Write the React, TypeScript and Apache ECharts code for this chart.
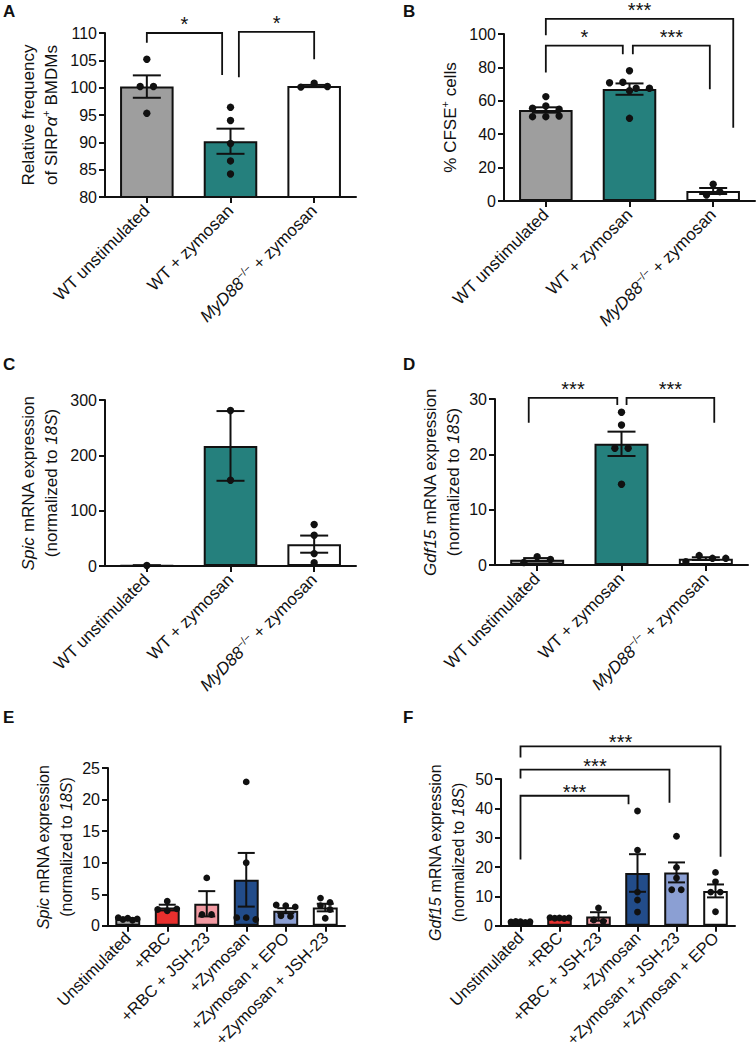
import React, { useEffect, useRef } from "react";
import * as echarts from "echarts";

// ---------------- categories ----------------
const catsABCD = ["WT unstimulated", "WT + zymosan", "MyD88−/− + zymosan"];
const catsE = ["Unstimulated", "+RBC", "+RBC + JSH-23", "+Zymosan", "+Zymosan + EPO", "+Zymosan + JSH-23"];
const catsF = ["Unstimulated", "+RBC", "+RBC + JSH-23", "+Zymosan", "+Zymosan + JSH-23", "+Zymosan + EPO"];

// ---------------- panel A ----------------
const aTicks = [80, 85, 90, 95, 100, 105, 110];
const aMeans = [100.2, 90.2, 100.3];
const aSems = [2.05, 2.3, 0.2];
const aPoints = [
  [105.2, 100.2, 100.2, 95.3],
  [96.4, 94.0, 89.8, 86.6, 84.2],
  [100.1, 100.8, 100.2],
];

// ---------------- panel B ----------------
const bTicks = [0, 20, 40, 60, 80, 100];
const bMeans = [54.5, 67.0, 6.0];
const bSems = [1.6, 3.4, 1.8];
const bPoints = [
  [62.5, 55.5, 56.9, 54.9, 50.5, 50.5, 50.9],
  [78.0, 70.8, 71.1, 66.0, 67.5, 67.5, 49.5],
  [10.0, 3.6, 5.6],
];

// ---------------- panel C ----------------
const cTicks = [0, 100, 200, 300];
const cMeans = [1, 217, 39.5];
const cSems = [0.3, 63, 15.5];
const cPoints = [[1], [281, 155], [75, 55.5, 22.4, 6]];

// ---------------- panel D ----------------
const dTicks = [0, 10, 20, 30];
const dMeans = [0.95, 21.9, 1.15];
const dSems = [0.3, 2.2, 0.25];
const dPoints = [
  [0.45, 1.5, 1.0],
  [27.6, 25.3, 21.1, 21.1, 14.6],
  [0.6, 1.7, 1.2, 1.2],
];

// ---------------- panel E ----------------
const eTicks = [0, 5, 10, 15, 20, 25];
const eMeans = [1.1, 2.9, 3.5, 7.3, 2.4, 2.9];
const eSems = [0.1, 0.45, 2.0, 4.25, 0.4, 0.6];
const ePoints = [
  [1.3, 1.0, 1.2, 0.9, 1.1],
  [3.9, 2.6, 2.4, 2.7],
  [7.6, 1.8, 1.8],
  [22.8, 10.0, 1.3, 1.3, 1.0],
  [3.3, 3.2, 3.0, 1.6, 1.5],
  [4.4, 3.7, 3.2, 2.6, 1.2],
];

// ---------------- panel F ----------------
const fTicks = [0, 10, 20, 30, 40, 50];
const fMeans = [1.35, 2.65, 3.2, 18.0, 18.2, 11.9];
const fSems = [0.06, 0.06, 1.45, 6.4, 3.4, 2.2];
const fPoints = [
  [1.3, 1.5, 1.4, 1.2, 1.4],
  [2.8, 2.6, 2.7, 2.5, 2.7],
  [6.1, 2.0, 1.5],
  [39.1, 25.8, 11.5, 8.8, 4.7],
  [30.5, 19.9, 16.3, 12.3, 12.3],
  [18.2, 15.0, 11.5, 11.5, 4.8],
];

// ---------------- significance brackets (data units) ----------------
type Bracket = { from: number; fromShift: number; to: number; toShift: number; top: number; leftEnd: number; rightEnd: number; label: string };
const aBrackets: Bracket[] = [
  { from: 0, fromShift: 0, to: 1, toShift: -0.1, top: 110, leftEnd: 108.2, rightEnd: 102.3, label: "*" },
  { from: 1, fromShift: 0.1, to: 2, toShift: 0, top: 110.2, leftEnd: 101.9, rightEnd: 105.2, label: "*" },
];
const bBrackets: Bracket[] = [
  { from: 0, fromShift: 0, to: 2, toShift: 0.24, top: 109, leftEnd: 99.2, rightEnd: 43.9, label: "***" },
  { from: 0, fromShift: 0, to: 1, toShift: -0.08, top: 93, leftEnd: 77, rightEnd: 87.8, label: "*" },
  { from: 1, fromShift: 0.04, to: 2, toShift: -0.04, top: 93, leftEnd: 87.8, rightEnd: 66.9, label: "***" },
];
const dBrackets: Bracket[] = [
  { from: 0, fromShift: -0.1, to: 1, toShift: -0.05, top: 30.2, leftEnd: 25.7, rightEnd: 28.9, label: "***" },
  { from: 1, fromShift: 0.06, to: 2, toShift: 0.1, top: 30.2, leftEnd: 28.9, rightEnd: 25.7, label: "***" },
];
const fBrackets: Bracket[] = [
  { from: 0, fromShift: 0, to: 3, toShift: -0.23, top: 44.3, leftEnd: 22.6, rightEnd: 41.4, label: "***" },
  { from: 0, fromShift: 0, to: 4, toShift: -0.18, top: 53.2, leftEnd: 50.2, rightEnd: 41.9, label: "***" },
  { from: 0, fromShift: 0, to: 5, toShift: 0.13, top: 61.1, leftEnd: 57.3, rightEnd: 23.5, label: "***" },
];

// ---------------- colours ----------------
const colorsABCD = ["#9e9e9e", "#25807d", "#ffffff"];
const colorsEF = ["#a9a9a9", "#e8302e", "#f29aa2", "#224c8a", "#8b9fd3", "#ffffff"];

// ---------------- axis titles ----------------
const nameA = "{t|Relative frequency}\n{t|of SIRP}{g|α}{s|+}{t| BMDMs}";
const nameB = "{t|% CFSE}{s|+}{t| cells}";
const nameC = "{i|Spic}{t| mRNA expression}\n{t|(normalized to }{i|18S}{t|)}";
const nameD = "{i|Gdf15}{t| mRNA expression}\n{t|(normalized to }{i|18S}{t|)}";

const FONT = "'Liberation Sans', Arial, Helvetica, sans-serif";
const INK = "#111111";

interface Panel {
  letter: string;
  letterPos: [number, number];
  grid: [number, number, number, number];
  cats: string[];
  colors: string[];
  means: number[];
  sems: number[];
  points: number[][];
  ticks: number[];
  brackets: Bracket[];
  name: string;
  nameGap: number;
  nameSize: number;
  nameLH: number;
  tickSize: number;
  labelSize: number;
  labelMargin: number;
  barWidth: string;
  capHalf: number;
  dotR: number;
  spacing: number;
  maxW: number;
  rowPx: number;
  starGap: number;
}

const bigStyle = {
  nameSize: 17, nameLH: 23, tickSize: 16, labelSize: 17, labelMargin: 11,
  barWidth: "64%", capHalf: 14, dotR: 3.7, spacing: 13.3, maxW: 40, rowPx: 7, starGap: 9,
};
const smallStyle = {
  nameSize: 16, nameLH: 23, tickSize: 16, labelSize: 16.5, labelMargin: 9,
  barWidth: "63%", capHalf: 8.5, dotR: 3.4, spacing: 9.5, maxW: 19, rowPx: 7, starGap: 4,
};

const panels: Panel[] = [
  { letter: "A", letterPos: [3, 3], grid: [105, 33, 251, 164], cats: catsABCD, colors: colorsABCD, means: aMeans, sems: aSems, points: aPoints, ticks: aTicks, brackets: aBrackets, name: nameA, nameGap: 42, ...bigStyle },
  { letter: "B", letterPos: [403, 3], grid: [504, 34, 251, 167], cats: catsABCD, colors: colorsABCD, means: bMeans, sems: bSems, points: bPoints, ticks: bTicks, brackets: bBrackets, name: nameB, nameGap: 42, ...bigStyle },
  { letter: "C", letterPos: [3, 356], grid: [105, 400, 251, 166], cats: catsABCD, colors: colorsABCD, means: cMeans, sems: cSems, points: cPoints, ticks: cTicks, brackets: [], name: nameC, nameGap: 42, ...bigStyle },
  { letter: "D", letterPos: [403, 356], grid: [495, 399, 253, 166], cats: catsABCD, colors: colorsABCD, means: dMeans, sems: dSems, points: dPoints, ticks: dTicks, brackets: dBrackets, name: nameD, nameGap: 29, ...bigStyle },
  { letter: "E", letterPos: [3, 709], grid: [108, 768, 237, 163.5], cats: catsE, colors: colorsEF, means: eMeans, sems: eSems, points: ePoints, ticks: eTicks, brackets: [], name: nameC, nameGap: 28, ...smallStyle },
  { letter: "F", letterPos: [403, 709], grid: [501, 779, 234, 162], cats: catsF, colors: colorsEF, means: fMeans, sems: fSems, points: fPoints, ticks: fTicks, brackets: fBrackets, name: nameD, nameGap: 31, ...smallStyle },
];

function labelRich(size: number) {
  const sup = Math.round(size * 0.62);
  return {
    n: { fontSize: size, fontFamily: FONT, color: INK, lineHeight: size + 4 },
    i: { fontSize: size, fontFamily: FONT, color: INK, fontStyle: "italic", lineHeight: size + 4 },
    s: { fontSize: sup, fontFamily: FONT, color: INK, verticalAlign: "top", lineHeight: sup + 1 },
  };
}

function nameRich(size: number, lh: number) {
  const sup = Math.round(size * 0.65);
  return {
    t: { fontSize: size, fontFamily: FONT, color: INK, lineHeight: lh },
    i: { fontSize: size, fontFamily: FONT, color: INK, fontStyle: "italic", lineHeight: lh },
    g: { fontSize: size, fontFamily: FONT, color: INK, fontStyle: "italic", lineHeight: lh },
    s: { fontSize: sup, fontFamily: FONT, color: INK, verticalAlign: "top", lineHeight: sup + 4 },
  };
}

function buildOption() {
  const grid: any[] = [];
  const xAxis: any[] = [];
  const yAxis: any[] = [];
  const series: any[] = [];
  const graphic: any[] = [];

  panels.forEach((p, i) => {
    grid.push({ left: p.grid[0], top: p.grid[1], width: p.grid[2], height: p.grid[3], containLabel: false });
    xAxis.push({
      gridIndex: i,
      type: "category",
      data: p.cats,
      axisLine: { show: true, lineStyle: { color: INK, width: 2 } },
      axisTick: { show: true, alignWithLabel: true, length: 6, lineStyle: { color: INK, width: 2 } },
      splitLine: { show: false },
      axisLabel: {
        interval: 0,
        rotate: 45,
        margin: p.labelMargin,
        color: INK,
        fontSize: p.labelSize,
        fontFamily: FONT,
        formatter: (v: string) => (v.indexOf("MyD88") === 0 ? "{i|MyD88}{s|−/−}{n| + zymosan}" : "{n|" + v + "}"),
        rich: labelRich(p.labelSize),
      },
    });
    yAxis.push({
      gridIndex: i,
      type: "value",
      min: p.ticks[0],
      max: p.ticks[p.ticks.length - 1],
      interval: p.ticks[1] - p.ticks[0],
      axisLine: { show: true, lineStyle: { color: INK, width: 2 } },
      axisTick: { show: true, length: 6, lineStyle: { color: INK, width: 2 } },
      splitLine: { show: false },
      axisLabel: { color: INK, fontSize: p.tickSize, fontFamily: FONT, margin: 8 },
      name: p.name,
      nameLocation: "middle",
      nameGap: p.nameGap,
      nameRotate: 90,
      nameTextStyle: { color: INK, fontSize: p.nameSize, fontFamily: FONT, lineHeight: p.nameLH, rich: nameRich(p.nameSize, p.nameLH) },
    });

    // bars (means)
    series.push({
      type: "bar",
      xAxisIndex: i,
      yAxisIndex: i,
      barWidth: p.barWidth,
      z: 2,
      silent: true,
      itemStyle: { borderColor: INK, borderWidth: 2 },
      data: p.means.map((m, j) => ({ value: m, itemStyle: { color: p.colors[j], borderColor: INK, borderWidth: 2 } })),
    });

    // error bars (mean ± SEM)
    series.push({
      type: "custom",
      xAxisIndex: i,
      yAxisIndex: i,
      z: 3,
      clip: false,
      silent: true,
      data: p.means.map((m, j) => [j, m, p.sems[j]]),
      renderItem: (params: any, api: any) => {
        const j = api.value(0);
        const m = api.value(1);
        const s = api.value(2);
        const top = api.coord([j, m + s]);
        const bot = api.coord([j, m - s]);
        const x = top[0];
        const st = { stroke: INK, lineWidth: 2 };
        return {
          type: "group",
          children: [
            { type: "line", shape: { x1: x, y1: top[1], x2: x, y2: bot[1] }, style: st },
            { type: "line", shape: { x1: x - p.capHalf, y1: top[1], x2: x + p.capHalf, y2: top[1] }, style: st },
            { type: "line", shape: { x1: x - p.capHalf, y1: bot[1], x2: x + p.capHalf, y2: bot[1] }, style: st },
          ],
        };
      },
    });

    // individual points, laid out in rows like a column scatter
    series.push({
      type: "custom",
      xAxisIndex: i,
      yAxisIndex: i,
      z: 5,
      clip: false,
      silent: true,
      data: p.points.map((g, j) => [j, p.means[j]]),
      renderItem: (params: any, api: any) => {
        const j = params.dataIndex;
        const vals = p.points[j];
        const pts = vals.map((v, k) => {
          const c = api.coord([j, v]);
          return { k, x: c[0], y: c[1], dx: 0 };
        });
        const sorted = pts.slice().sort((a, b) => a.y - b.y);
        let row: any[] = [];
        const flush = () => {
          const n = row.length;
          if (!n) return;
          const sp = n > 1 ? Math.min(p.spacing, p.maxW / (n - 1)) : 0;
          row.sort((a, b) => a.k - b.k).forEach((q, m) => {
            q.dx = (m - (n - 1) / 2) * sp;
          });
          row = [];
        };
        sorted.forEach((q) => {
          if (row.length && q.y - row[0].y >= p.rowPx) flush();
          row.push(q);
        });
        flush();
        return {
          type: "group",
          children: pts.map((q) => ({ type: "circle", shape: { cx: q.x + q.dx, cy: q.y, r: p.dotR }, style: { fill: INK } })),
        };
      },
    });

    // significance brackets
    if (p.brackets.length) {
      series.push({
        type: "custom",
        xAxisIndex: i,
        yAxisIndex: i,
        z: 6,
        clip: false,
        silent: true,
        data: p.brackets.map((b) => [b.from, b.top]),
        renderItem: (params: any, api: any) => {
          const b = p.brackets[params.dataIndex];
          const band = api.size([1, 0])[0];
          const xL = api.coord([b.from, b.top])[0] + b.fromShift * band;
          const xR = api.coord([b.to, b.top])[0] + b.toShift * band;
          const yT = api.coord([b.from, b.top])[1];
          const yL = api.coord([b.from, b.leftEnd])[1];
          const yR = api.coord([b.to, b.rightEnd])[1];
          return {
            type: "group",
            children: [
              {
                type: "polyline",
                shape: { points: [[xL, yL], [xL, yT], [xR, yT], [xR, yR]] },
                style: { stroke: INK, lineWidth: 1.8, fill: "none" },
              },
              {
                type: "text",
                x: (xL + xR) / 2,
                y: yT - p.starGap,
                style: { text: b.label, fontSize: 20, fontFamily: FONT, fill: INK, align: "center", verticalAlign: "middle" },
              },
            ],
          };
        },
      });
    }

    graphic.push({
      type: "text",
      left: p.letterPos[0],
      top: p.letterPos[1],
      style: { text: p.letter, fontSize: 17, fontWeight: "bold", fontFamily: FONT, fill: INK },
    });
  });

  return {
    animation: false,
    backgroundColor: "#ffffff",
    textStyle: { fontFamily: FONT, color: INK },
    grid,
    xAxis,
    yAxis,
    series,
    graphic,
  };
}

export default function App() {
  const ref = useRef<HTMLDivElement>(null);
  useEffect(() => {
    if (!ref.current) return;
    const chart = echarts.init(ref.current, undefined, { renderer: "svg" });
    chart.setOption(buildOption() as any);
    return () => chart.dispose();
  }, []);
  return (
    <div
      ref={ref}
      style={{ position: "absolute", left: 0, top: 0, width: 756, height: 1050, background: "#ffffff" }}
    />
  );
}
